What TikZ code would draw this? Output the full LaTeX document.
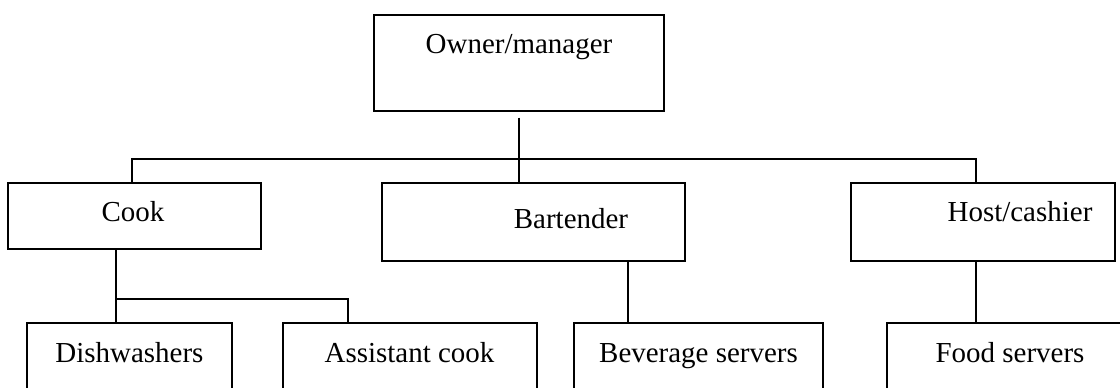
\documentclass[tikz,border=0pt]{standalone}
\usepackage{fontspec}
\setmainfont{Liberation Serif}
\tikzset{
 orgbox/.style 2 args={draw,line width=0.8pt,minimum width=#1*0.025cm,minimum height=#2*0.025cm,inner sep=0pt},
 orgtext/.style={inner sep=0pt,text height=20*0.025cm,text depth=6*0.025cm,font=\fontsize{20.6}{24}\selectfont},
 link/.style={line width=0.8pt}
}
\begin{document}
\begin{tikzpicture}[x=0.025cm,y=-0.025cm]
 \clip (0,0) rectangle (1120,388);

 \node[orgbox={290}{96}] (owner) at (519,63) {};
 \node[orgtext] (ownerT) at (519,46) {Owner/manager};

\node[orgbox={253}{66}] (cook) at (134.5,216) {};
 \node[orgtext] (cookT) at (133,214) {Cook};
 \node[orgbox={303}{78}] (bart) at (533.5,222) {};
 \node[orgtext] (bartT) at (571,221) {Bartender};
 \node[orgbox={264}{78}] (host) at (983,222) {};
 \node[orgtext] (hostT) at (1020,214) {Host/cashier};

 \node[orgbox={205}{100}] (dish) at (129.5,373) {};
 \node[orgtext] (dishT) at (129.5,355) {Dishwashers};
 \node[orgbox={254}{100}] (asst) at (410,373) {};
 \node[orgtext] (asstT) at (409.5,355) {Assistant cook};
 \node[orgbox={249}{100}] (bev) at (698.5,373) {};
 \node[orgtext] (bevT) at (698.5,355) {Beverage servers};
 \node[orgbox={246}{100}] (food) at (1010,373) {};
 \node[orgtext] (foodT) at (1010,355) {Food servers};

 \coordinate (busL) at (132,159);
 \coordinate (busR) at (976,159);
 \coordinate (cookJ) at (116,299);
 \coordinate (cookK) at (348,299);

 \draw[link] ([yshift=-6*0.025cm]owner.south) -- (owner.south |- bart.north);
 \draw[link] (cook.north -| busL) -- (busL) -- (busR) -- (busR |- host.north);
 \draw[link] (cook.south -| cookJ) -- (cookJ |- dish.north);
 \draw[link] (cookJ) -- (cookK) -- (cookK |- asst.north);
 \draw[link] (bart.south -| 628,0) -- (bev.north -| 628,0);
 \draw[link] (host.south -| busR) -- (food.north -| busR);
\end{tikzpicture}
\end{document}
